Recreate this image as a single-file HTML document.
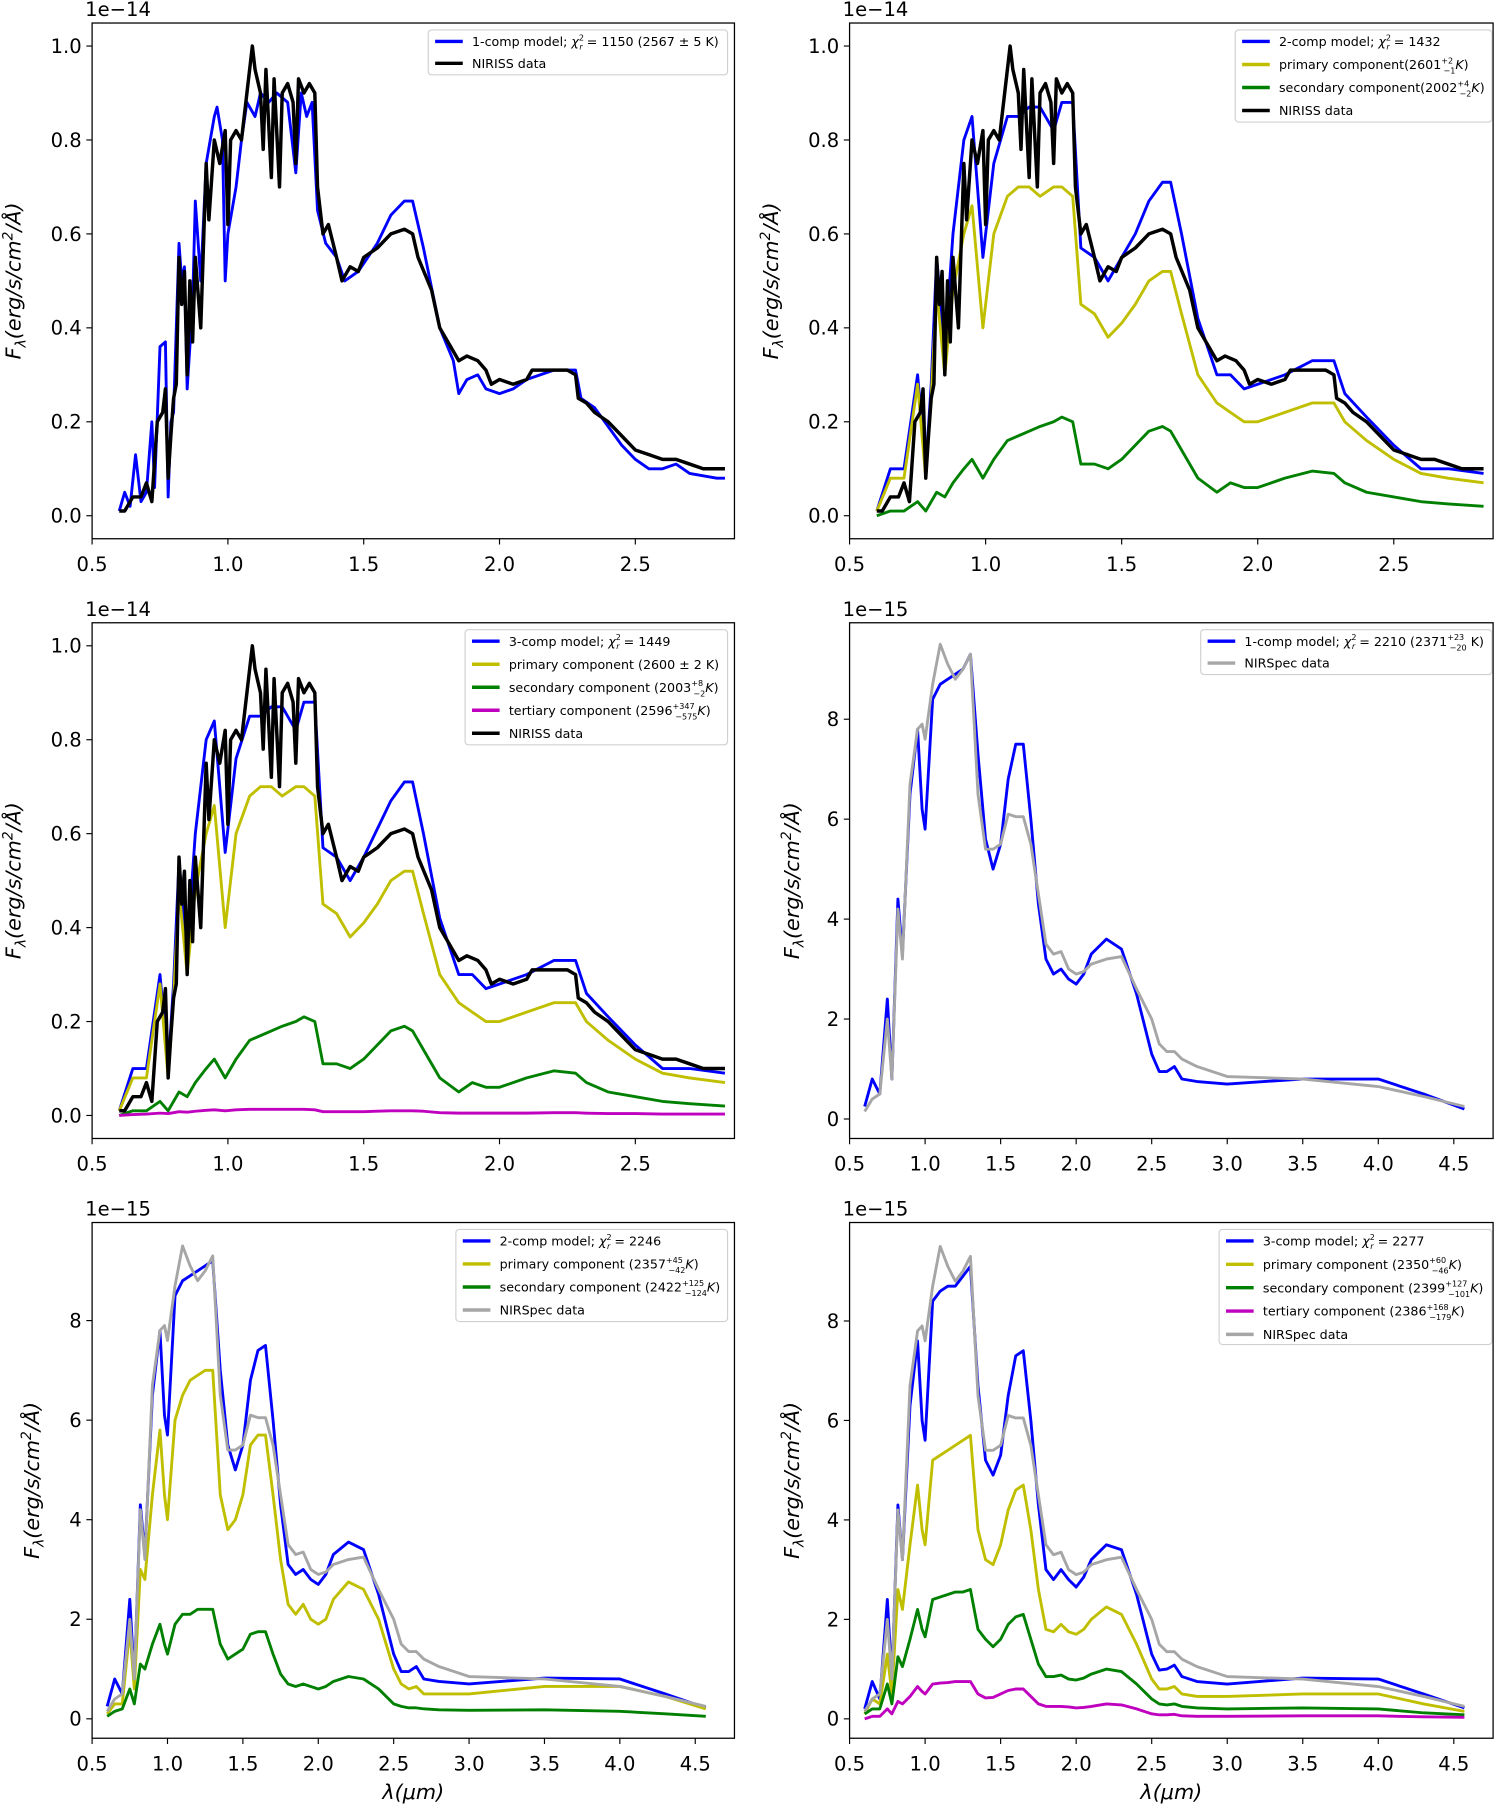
<!DOCTYPE html>
<html><head><meta charset="utf-8">
<style>
html,body{margin:0;padding:0;background:#fff;}
svg{display:block;}
text{font-family:"DejaVu Sans","Liberation Sans",sans-serif;fill:#000;}
</style></head>
<body>
<svg id="fig" width="1500" height="1805" viewBox="0 0 1303 1568" preserveAspectRatio="none" xmlns="http://www.w3.org/2000/svg"></svg>
<script>
// ---------- data ----------
const nirissDataX = [0.60,0.62,0.65,0.68,0.70,0.72,0.74,0.76,0.77,0.78,0.79,0.80,0.81,0.82,0.83,0.84,0.85,0.86,0.87,0.88,0.90,0.92,0.93,0.95,0.97,0.99,1.00,1.01,1.03,1.05,1.07,1.09,1.10,1.12,1.13,1.14,1.16,1.17,1.19,1.20,1.22,1.24,1.25,1.26,1.28,1.30,1.32,1.33,1.35,1.37,1.40,1.42,1.45,1.48,1.50,1.55,1.60,1.65,1.68,1.70,1.75,1.78,1.82,1.85,1.88,1.92,1.95,1.97,2.00,2.05,2.10,2.12,2.15,2.20,2.25,2.28,2.29,2.32,2.35,2.40,2.45,2.50,2.55,2.60,2.65,2.70,2.75,2.80,2.83];
const nirissDataY = [0.01,0.01,0.04,0.04,0.07,0.03,0.20,0.22,0.27,0.08,0.17,0.25,0.28,0.55,0.45,0.52,0.30,0.50,0.37,0.55,0.40,0.75,0.63,0.80,0.75,0.82,0.62,0.80,0.82,0.80,0.90,1.00,0.95,0.90,0.78,0.95,0.72,0.93,0.70,0.90,0.92,0.88,0.75,0.93,0.90,0.92,0.90,0.70,0.60,0.62,0.55,0.50,0.53,0.52,0.55,0.57,0.60,0.61,0.60,0.55,0.48,0.40,0.36,0.33,0.34,0.33,0.31,0.28,0.29,0.28,0.29,0.31,0.31,0.31,0.31,0.30,0.25,0.24,0.22,0.20,0.17,0.14,0.13,0.12,0.12,0.11,0.10,0.10,0.10];
const oneCompX = [0.60,0.62,0.64,0.66,0.68,0.70,0.72,0.73,0.75,0.77,0.78,0.79,0.80,0.82,0.83,0.84,0.85,0.87,0.88,0.90,0.92,0.95,0.96,0.98,0.99,1.00,1.03,1.05,1.07,1.10,1.12,1.15,1.18,1.22,1.25,1.27,1.29,1.31,1.33,1.36,1.40,1.43,1.48,1.55,1.60,1.65,1.68,1.72,1.78,1.83,1.85,1.88,1.92,1.95,2.00,2.05,2.10,2.20,2.28,2.30,2.35,2.40,2.45,2.50,2.55,2.60,2.65,2.70,2.80,2.83];
const oneCompY = [0.01,0.05,0.02,0.13,0.03,0.05,0.20,0.06,0.36,0.37,0.04,0.20,0.22,0.58,0.50,0.53,0.27,0.45,0.67,0.50,0.75,0.85,0.87,0.80,0.50,0.60,0.70,0.80,0.88,0.85,0.90,0.88,0.90,0.88,0.73,0.90,0.85,0.88,0.65,0.58,0.55,0.50,0.52,0.58,0.64,0.67,0.67,0.57,0.40,0.33,0.26,0.29,0.30,0.27,0.26,0.27,0.29,0.31,0.31,0.25,0.23,0.19,0.15,0.12,0.10,0.10,0.11,0.09,0.08,0.08];
const nirissModelX = [0.60,0.65,0.70,0.75,0.78,0.80,0.82,0.85,0.88,0.92,0.95,0.99,1.03,1.08,1.12,1.16,1.20,1.25,1.28,1.32,1.35,1.40,1.45,1.50,1.55,1.60,1.65,1.68,1.72,1.78,1.85,1.90,1.95,2.00,2.10,2.20,2.28,2.32,2.40,2.50,2.60,2.70,2.83];
const twoCompBlue = [0.01,0.10,0.10,0.30,0.10,0.28,0.55,0.35,0.60,0.80,0.85,0.55,0.75,0.85,0.85,0.87,0.87,0.82,0.88,0.88,0.57,0.55,0.50,0.55,0.60,0.67,0.71,0.71,0.60,0.42,0.30,0.30,0.27,0.28,0.30,0.33,0.33,0.26,0.21,0.15,0.10,0.10,0.09];
const nirissPrimary = [0.01,0.08,0.08,0.28,0.08,0.25,0.48,0.30,0.48,0.60,0.66,0.40,0.60,0.68,0.70,0.70,0.68,0.70,0.70,0.68,0.45,0.43,0.38,0.41,0.45,0.50,0.52,0.52,0.43,0.30,0.24,0.22,0.20,0.20,0.22,0.24,0.24,0.20,0.16,0.12,0.09,0.08,0.07];
const nirissSecondary = [0.00,0.01,0.01,0.03,0.01,0.03,0.05,0.04,0.07,0.10,0.12,0.08,0.12,0.16,0.17,0.18,0.19,0.20,0.21,0.20,0.11,0.11,0.10,0.12,0.15,0.18,0.19,0.18,0.14,0.08,0.05,0.07,0.06,0.06,0.08,0.095,0.09,0.07,0.05,0.04,0.03,0.025,0.02];
const threeCompBlue = [0.01,0.10,0.10,0.30,0.10,0.28,0.54,0.35,0.60,0.80,0.84,0.56,0.76,0.85,0.85,0.87,0.87,0.82,0.88,0.88,0.57,0.55,0.50,0.55,0.61,0.67,0.71,0.71,0.60,0.42,0.30,0.30,0.27,0.28,0.30,0.33,0.33,0.26,0.21,0.15,0.10,0.10,0.09];
const nirissTertiary = [0.00,0.002,0.003,0.005,0.004,0.006,0.008,0.007,0.009,0.011,0.012,0.010,0.012,0.013,0.013,0.013,0.013,0.013,0.013,0.012,0.008,0.008,0.008,0.008,0.009,0.010,0.010,0.010,0.009,0.006,0.005,0.005,0.005,0.005,0.005,0.006,0.006,0.005,0.004,0.004,0.003,0.003,0.003];

const nirspecX = [0.60,0.65,0.70,0.75,0.78,0.82,0.85,0.90,0.95,0.98,1.00,1.05,1.10,1.15,1.20,1.25,1.30,1.35,1.40,1.45,1.50,1.55,1.60,1.65,1.70,1.75,1.80,1.85,1.90,1.95,2.00,2.05,2.10,2.20,2.30,2.40,2.50,2.55,2.60,2.65,2.70,2.80,3.00,3.50,4.00,4.30,4.57];
const nirspecData = [0.15,0.40,0.50,2.00,0.80,4.20,3.20,6.70,7.80,7.90,7.60,8.70,9.50,9.10,8.80,9.00,9.30,6.50,5.40,5.40,5.50,6.10,6.05,6.05,5.50,4.50,3.50,3.30,3.35,3.00,2.90,2.95,3.10,3.20,3.25,2.60,2.00,1.50,1.35,1.35,1.20,1.05,0.85,0.80,0.65,0.45,0.25];
const spec1Blue = [0.25,0.80,0.50,2.40,0.80,4.40,3.30,6.50,7.80,6.20,5.80,8.40,8.70,8.80,8.90,9.00,9.30,7.30,5.60,5.00,5.50,6.80,7.50,7.50,6.00,4.30,3.20,2.90,3.00,2.80,2.70,2.90,3.30,3.60,3.40,2.50,1.30,0.95,0.95,1.05,0.80,0.75,0.70,0.80,0.80,0.50,0.20];
const spec2Blue = [0.25,0.80,0.50,2.40,0.80,4.30,3.30,6.50,7.80,6.10,5.70,8.50,8.80,8.90,9.00,9.10,9.20,7.00,5.50,5.00,5.50,6.80,7.40,7.50,6.00,4.30,3.10,2.90,3.00,2.80,2.70,2.90,3.30,3.55,3.40,2.50,1.30,0.95,0.95,1.05,0.80,0.75,0.70,0.82,0.80,0.50,0.22];
const spec2Primary = [0.10,0.30,0.30,1.80,0.60,3.00,2.80,4.50,5.80,4.50,4.00,6.00,6.50,6.80,6.90,7.00,7.00,4.50,3.80,4.00,4.50,5.50,5.70,5.70,4.50,3.20,2.30,2.10,2.30,2.00,1.90,2.00,2.40,2.75,2.60,2.00,1.00,0.70,0.60,0.65,0.50,0.50,0.50,0.65,0.65,0.45,0.20];
const spec2Secondary = [0.05,0.15,0.20,0.60,0.30,1.10,1.00,1.50,1.90,1.50,1.30,1.90,2.10,2.10,2.20,2.20,2.20,1.50,1.20,1.30,1.40,1.70,1.75,1.75,1.30,0.90,0.70,0.65,0.70,0.65,0.60,0.65,0.75,0.85,0.80,0.60,0.30,0.25,0.22,0.22,0.20,0.18,0.17,0.18,0.15,0.10,0.05];
const spec3Blue = [0.20,0.75,0.40,2.40,0.80,4.30,3.20,6.30,7.60,6.00,5.60,8.40,8.60,8.70,8.70,8.90,9.10,6.70,5.20,4.90,5.30,6.50,7.30,7.40,6.00,4.30,3.00,2.80,3.00,2.80,2.65,2.85,3.20,3.50,3.40,2.50,1.30,0.98,1.00,1.08,0.85,0.75,0.70,0.82,0.80,0.50,0.22];
const spec3Primary = [0.10,0.40,0.30,1.30,0.50,2.60,2.20,3.50,4.70,3.80,3.50,5.20,5.30,5.40,5.50,5.60,5.70,3.80,3.20,3.10,3.50,4.20,4.60,4.70,3.80,2.60,1.80,1.75,1.90,1.75,1.70,1.80,2.00,2.25,2.10,1.50,0.80,0.60,0.60,0.65,0.50,0.45,0.45,0.50,0.50,0.30,0.15];
const spec3Secondary = [0.10,0.20,0.20,0.70,0.30,1.25,1.05,1.60,2.20,1.80,1.65,2.40,2.45,2.50,2.55,2.55,2.60,1.80,1.60,1.45,1.60,1.90,2.05,2.10,1.60,1.10,0.85,0.85,0.88,0.80,0.78,0.82,0.90,1.00,0.95,0.70,0.40,0.30,0.28,0.30,0.25,0.22,0.20,0.22,0.20,0.12,0.08];
const spec3Tertiary = [0.00,0.05,0.05,0.20,0.10,0.35,0.30,0.45,0.65,0.55,0.50,0.70,0.72,0.73,0.75,0.75,0.75,0.50,0.42,0.43,0.50,0.57,0.60,0.60,0.45,0.30,0.25,0.25,0.25,0.24,0.22,0.23,0.25,0.30,0.28,0.20,0.10,0.08,0.08,0.09,0.06,0.05,0.05,0.06,0.06,0.04,0.03];

const nirissXTicks = [0.5,1.0,1.5,2.0,2.5];
const nirissXTickLabels = ["0.5","1.0","1.5","2.0","2.5"];
const nirissYTicks = [0,0.2,0.4,0.6,0.8,1.0];
const nirissYTickLabels = ["0.0","0.2","0.4","0.6","0.8","1.0"];
const nirspecXTicks = [0.5,1.0,1.5,2.0,2.5,3.0,3.5,4.0,4.5];
const nirspecXTickLabels = ["0.5","1.0","1.5","2.0","2.5","3.0","3.5","4.0","4.5"];
const nirspecYTicks = [0,2,4,6,8];
const nirspecYTickLabels = ["0","2","4","6","8"];

const C = {blue:"#0000ff", yellow:"#bfbf00", green:"#008000", magenta:"#bf00bf", black:"#000000", gray:"#a6a6a6"};

const NS = "http://www.w3.org/2000/svg";
const fig = document.getElementById('fig');
function mk(tag, attrs, parent){const e=document.createElementNS(NS,tag);for(const k in attrs)e.setAttribute(k,attrs[k]);(parent||fig).appendChild(e);return e;}

function drawPanel(p){
  const g = mk('g',{});
  
  
  const sx = v => p.L + (v - p.xmin)/(p.xmax - p.xmin)*(p.R - p.L);
  const sy = v => p.B - (v - p.ymin)/(p.ymax - p.ymin)*(p.B - p.T);
  p.series.forEach(s=>{
    let d='';
    s.x.forEach((xv,i)=>{d+=(i?'L':'M')+sx(xv).toFixed(2)+','+sy(s.y[i]).toFixed(2);});
    const path = mk('path',{d:d,fill:'none',stroke:s.color,'stroke-width':s.w||2.5,'stroke-linejoin':'round'},g);
    
    
  });
  const fr = mk('rect',{x:p.L,y:p.T,width:p.R-p.L,height:p.B-p.T,fill:'none',stroke:'#000','stroke-width':1.1},g);
  
  
  p.xt.forEach((v,i)=>{
    const x=sx(v);
    mk('line',{x1:x,x2:x,y1:p.B,y2:p.B+5,stroke:'#000','stroke-width':1},g);
    const t=mk('text',{x:x,y:p.B+28,'text-anchor':'middle','font-size':17},g);
    t.textContent=p.xtl[i];
    
    
  });
  p.yt.forEach((v,i)=>{
    const y=sy(v);
    mk('line',{x1:p.L-5,x2:p.L,y1:y,y2:y,stroke:'#000','stroke-width':1},g);
    const t=mk('text',{x:p.L-9,y:y+6,'text-anchor':'end','font-size':17},g);
    t.textContent=p.ytl[i];
    
    
  });
  const off=mk('text',{x:p.L-6,y:p.T-6,'font-size':17},g);
  off.textContent=p.offset;
  
  
  const cy=(p.T+p.B)/2;
  const yl=mk('text',{x:p.ylx,y:cy,'font-size':18,'text-anchor':'middle',transform:'rotate(-90 '+p.ylx+' '+cy+')','font-style':'italic'},g);
  yl.innerHTML='F<tspan font-size="12" dy="4">λ</tspan><tspan dy="-4">(erg/s/cm</tspan><tspan font-size="12" dy="-7">2</tspan><tspan dy="7">/Å)</tspan>';
  
  
  if(p.xlabel){
    const xl=mk('text',{x:(p.L+p.R)/2,y:p.B+53,'font-size':18,'text-anchor':'middle','font-style':'italic'},g);
    xl.textContent='λ(μm)';
    
    
  }
  const lg=p.legend;
  const lb=mk('rect',{x:lg.x,y:lg.y,width:lg.w,height:lg.h,rx:3,fill:'#fff','fill-opacity':0.8,stroke:'#d0d0d0','stroke-width':1},g);
  
  
  lg.items.forEach((it,i)=>{
    const y=lg.y+10+i*lg.step;
    mk('line',{x1:lg.x+6,x2:lg.x+30,y1:y,y2:y,stroke:it.c,'stroke-width':3},g);
    const t=mk('text',{x:lg.x+38,y:y+4,'font-size':11},g);
    t.innerHTML=it.t;
    
    
  });
}
const chi='<tspan font-style="italic">χ</tspan><tspan font-size="7" dy="-5">2</tspan><tspan font-size="7" dx="-4" dy="8" font-style="italic">r</tspan><tspan dy="-3"> = ';
function pm(a,b){return '<tspan font-size="7" dy="-5">'+a+'</tspan><tspan font-size="7" dx="-'+(a.length*4.2)+'" dy="9">'+b+'</tspan><tspan dy="-4" font-style="italic">K</tspan>';}

drawPanel({name:'panel-niriss-1comp',L:80,R:638,T:20,B:468,xmin:0.5,xmax:2.865,ymin:-0.049,ymax:1.049,
  xt:nirissXTicks,xtl:nirissXTickLabels,yt:nirissYTicks,ytl:nirissYTickLabels,offset:'1e−14',ylx:18,
  series:[{id:'one-comp-model-line',x:oneCompX,y:oneCompY,color:C.blue},{id:'niriss-data-line',x:nirissDataX,y:nirissDataY,color:C.black,w:3}],
  legend:{x:372,y:26,w:260,h:39,step:19,items:[{c:C.blue,t:'1-comp model; '+chi+'1150 (2567 ± 5 K)</tspan>'},{c:C.black,t:'NIRISS data'}]}});
drawPanel({name:'panel-niriss-2comp',L:738,R:1297,T:20,B:468,xmin:0.5,xmax:2.865,ymin:-0.049,ymax:1.049,
  xt:nirissXTicks,xtl:nirissXTickLabels,yt:nirissYTicks,ytl:nirissYTickLabels,offset:'1e−14',ylx:676,
  series:[{id:'two-comp-model-line',x:nirissModelX,y:twoCompBlue,color:C.blue},{id:'primary-component-line',x:nirissModelX,y:nirissPrimary,color:C.yellow},{id:'secondary-component-line',x:nirissModelX,y:nirissSecondary,color:C.green},{id:'niriss-data-line',x:nirissDataX,y:nirissDataY,color:C.black,w:3}],
  legend:{x:1073,y:26,w:223,h:80,step:20,items:[{c:C.blue,t:'2-comp model; '+chi+'1432</tspan>'},{c:C.yellow,t:'primary component(2601'+pm('+2','−1')+')'},{c:C.green,t:'secondary component(2002'+pm('+4','−2')+')'},{c:C.black,t:'NIRISS data'}]}});
drawPanel({name:'panel-niriss-3comp',L:80,R:638,T:541,B:989,xmin:0.5,xmax:2.865,ymin:-0.049,ymax:1.049,
  xt:nirissXTicks,xtl:nirissXTickLabels,yt:nirissYTicks,ytl:nirissYTickLabels,offset:'1e−14',ylx:18,
  series:[{id:'three-comp-model-line',x:nirissModelX,y:threeCompBlue,color:C.blue},{id:'primary-component-line',x:nirissModelX,y:nirissPrimary,color:C.yellow},{id:'secondary-component-line',x:nirissModelX,y:nirissSecondary,color:C.green},{id:'tertiary-component-line',x:nirissModelX,y:nirissTertiary,color:C.magenta},{id:'niriss-data-line',x:nirissDataX,y:nirissDataY,color:C.black,w:3}],
  legend:{x:404,y:547,w:228,h:100,step:20,items:[{c:C.blue,t:'3-comp model; '+chi+'1449</tspan>'},{c:C.yellow,t:'primary component (2600 ± 2 K)'},{c:C.green,t:'secondary component (2003'+pm('+8','−2')+')'},{c:C.magenta,t:'tertiary component (2596'+pm('+347','−575')+')'},{c:C.black,t:'NIRISS data'}]}});
drawPanel({name:'panel-nirspec-1comp',L:738,R:1297,T:541,B:989,xmin:0.5,xmax:4.76,ymin:-0.39,ymax:9.93,
  xt:nirspecXTicks,xtl:nirspecXTickLabels,yt:nirspecYTicks,ytl:nirspecYTickLabels,offset:'1e−15',ylx:694,
  series:[{id:'one-comp-model-line',x:nirspecX,y:spec1Blue,color:C.blue},{id:'nirspec-data-line',x:nirspecX,y:nirspecData,color:C.gray}],
  legend:{x:1043,y:547,w:253,h:39,step:19,items:[{c:C.blue,t:'1-comp model; '+chi+'2210 (2371'+pm('+23','−20').replace('<tspan dy="-4" font-style="italic">K</tspan>','<tspan dy="-4"> K</tspan>')+')</tspan>'},{c:C.gray,t:'NIRSpec data'}]}});
drawPanel({name:'panel-nirspec-2comp',L:80,R:638,T:1062,B:1510,xmin:0.5,xmax:4.76,ymin:-0.39,ymax:9.97,
  xt:nirspecXTicks,xtl:nirspecXTickLabels,yt:nirspecYTicks,ytl:nirspecYTickLabels,offset:'1e−15',ylx:34,xlabel:true,
  series:[{id:'two-comp-model-line',x:nirspecX,y:spec2Blue,color:C.blue},{id:'primary-component-line',x:nirspecX,y:spec2Primary,color:C.yellow},{id:'secondary-component-line',x:nirspecX,y:spec2Secondary,color:C.green},{id:'nirspec-data-line',x:nirspecX,y:nirspecData,color:C.gray}],
  legend:{x:396,y:1068,w:236,h:80,step:20,items:[{c:C.blue,t:'2-comp model; '+chi+'2246</tspan>'},{c:C.yellow,t:'primary component (2357'+pm('+45','−42')+')'},{c:C.green,t:'secondary component (2422'+pm('+125','−124')+')'},{c:C.gray,t:'NIRSpec data'}]}});
drawPanel({name:'panel-nirspec-3comp',L:738,R:1297,T:1062,B:1510,xmin:0.5,xmax:4.76,ymin:-0.39,ymax:9.98,
  xt:nirspecXTicks,xtl:nirspecXTickLabels,yt:nirspecYTicks,ytl:nirspecYTickLabels,offset:'1e−15',ylx:694,xlabel:true,
  series:[{id:'three-comp-model-line',x:nirspecX,y:spec3Blue,color:C.blue},{id:'primary-component-line',x:nirspecX,y:spec3Primary,color:C.yellow},{id:'secondary-component-line',x:nirspecX,y:spec3Secondary,color:C.green},{id:'tertiary-component-line',x:nirspecX,y:spec3Tertiary,color:C.magenta},{id:'nirspec-data-line',x:nirspecX,y:nirspecData,color:C.gray}],
  legend:{x:1059,y:1068,w:237,h:100,step:20.3,items:[{c:C.blue,t:'3-comp model; '+chi+'2277</tspan>'},{c:C.yellow,t:'primary component (2350'+pm('+60','−46')+')'},{c:C.green,t:'secondary component (2399'+pm('+127','−101')+')'},{c:C.magenta,t:'tertiary component (2386'+pm('+168','−179')+')'},{c:C.gray,t:'NIRSpec data'}]}});
</script>
</body></html>
